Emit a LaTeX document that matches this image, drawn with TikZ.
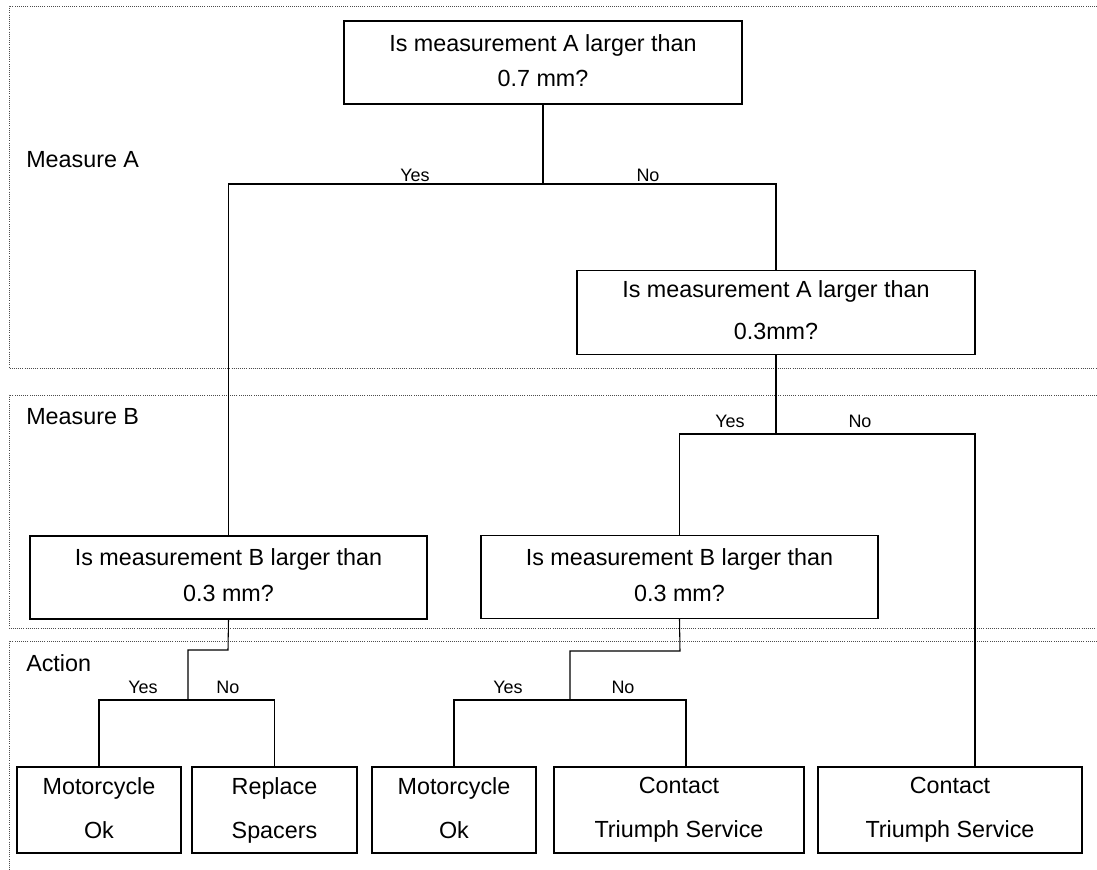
\documentclass[tikz,border=0pt]{standalone}
\usepackage{fontspec}
\setmainfont{Liberation Sans}
\usepackage{tikz}

\newcommand{\lnfix}{\vphantom{Agy}}

\begin{document}
\begin{tikzpicture}[x=0.75pt,y=-0.75pt,
    qbox/.style={draw, line width=1.1pt, align=center, inner sep=0pt},
    link/.style={line width=0.8pt},
    band/.style={densely dotted, line width=0.6pt, gray!60!black},
    lbl/.style={font=\fontsize{13.5}{16}\selectfont, inner sep=0pt},
    bandlbl/.style={font=\fontsize{17.5}{21}\selectfont, inner sep=0pt, anchor=west}]
    \useasboundingbox (0,0) rectangle (1097,870);

    % bands
    \draw[band] (1097,6) -- (9,6) -- (9,368) -- (1097,368);
    \draw[band] (1097,395) -- (9,395) -- (9,628) -- (1097,628);
    \draw[band] (1097,641) -- (9,641) -- (9,870);
    \node[bandlbl] (mA) at (26,160) {Measure A};
    \node[bandlbl] (mB) at (26,417) {Measure B};
    \node[bandlbl] (act) at (26,663) {Action};

    % questions
    \node[qbox, minimum width=298.5pt, minimum height=62.25pt,
          font=\fontsize{17.5}{26.25}\selectfont] (qA1) at (543,62.5)
          {\lnfix Is measurement A larger than\\0.7 mm?\lnfix};
    \node[qbox, minimum width=298.5pt, minimum height=63pt,
          font=\fontsize{17.5}{31.5}\selectfont] (qA2) at (776,312.5)
          {\lnfix Is measurement A larger than\\0.3mm?\lnfix};
    \node[qbox, minimum width=297.75pt, minimum height=62.25pt,
          font=\fontsize{17.5}{27}\selectfont] (qB1) at (228.5,577.5)
          {\lnfix Is measurement B larger than\\0.3 mm?\lnfix};
    \node[qbox, minimum width=297.75pt, minimum height=62.25pt,
          font=\fontsize{17.5}{27}\selectfont] (qB2) at (679.5,577)
          {\lnfix Is measurement B larger than\\0.3 mm?\lnfix};

    % actions
    \tikzset{abox/.style={qbox, minimum height=64.5pt, font=\fontsize{17.5}{33}\selectfont}}
    \node[abox, minimum width=123pt] (a1) at (99,810) {\lnfix Motorcycle\\Ok\lnfix};
    \node[abox, minimum width=123.75pt] (a2) at (274.5,810) {\lnfix Replace\\Spacers\lnfix};
    \node[abox, minimum width=123pt] (a3) at (454,810) {\lnfix Motorcycle\\Ok\lnfix};
    \node[abox, minimum width=187.5pt] (a4) at (679,810) {\lnfix Contact\\Triumph Service\lnfix};
    \node[abox, minimum width=198pt] (a5) at (950,810) {\lnfix Contact\\Triumph Service\lnfix};

    % junctions
    \coordinate (j1) at (543,184);
    \coordinate (j2) at (776,434);
    \coordinate (k1) at (228,650);
    \coordinate (j3) at (188,700);
    \coordinate (k2) at (680,651);
    \coordinate (j4) at (570,700);

    \draw[link] (qA1.south) -- (j1);
    \draw[link] (j1) -| (qB1.north);
    \draw[link] (j1) -| (qA2.north);
    \draw[link] (qA2.south) -- (j2);
    \draw[link] (j2) -| (qB2.north);
    \draw[link] (j2) -| ([xshift=18.75pt]a5.north);
    \draw[link] (qB1.south) -- (k1) -| (j3);
    \draw[link] (j3) -| (a1.north);
    \draw[link] (j3) -| (a2.north);
    \draw[link] (qB2.south) -- (k2) -| (j4);
    \draw[link] (j4) -| (a3.north);
    \draw[link] (j4) -| ([xshift=5.25pt]a4.north);

    % yes / no
    \node[lbl] (y1) at (415,175) {Yes};
    \node[lbl] (n1) at (648,175) {No};
    \node[lbl] (y2) at (730,421) {Yes};
    \node[lbl] (n2) at (860,421) {No};
    \node[lbl] (y3) at (143,687) {Yes};
    \node[lbl] (n3) at (228,687) {No};
    \node[lbl] (y4) at (508,687) {Yes};
    \node[lbl] (n4) at (623,687) {No};
\end{tikzpicture}
\end{document}
